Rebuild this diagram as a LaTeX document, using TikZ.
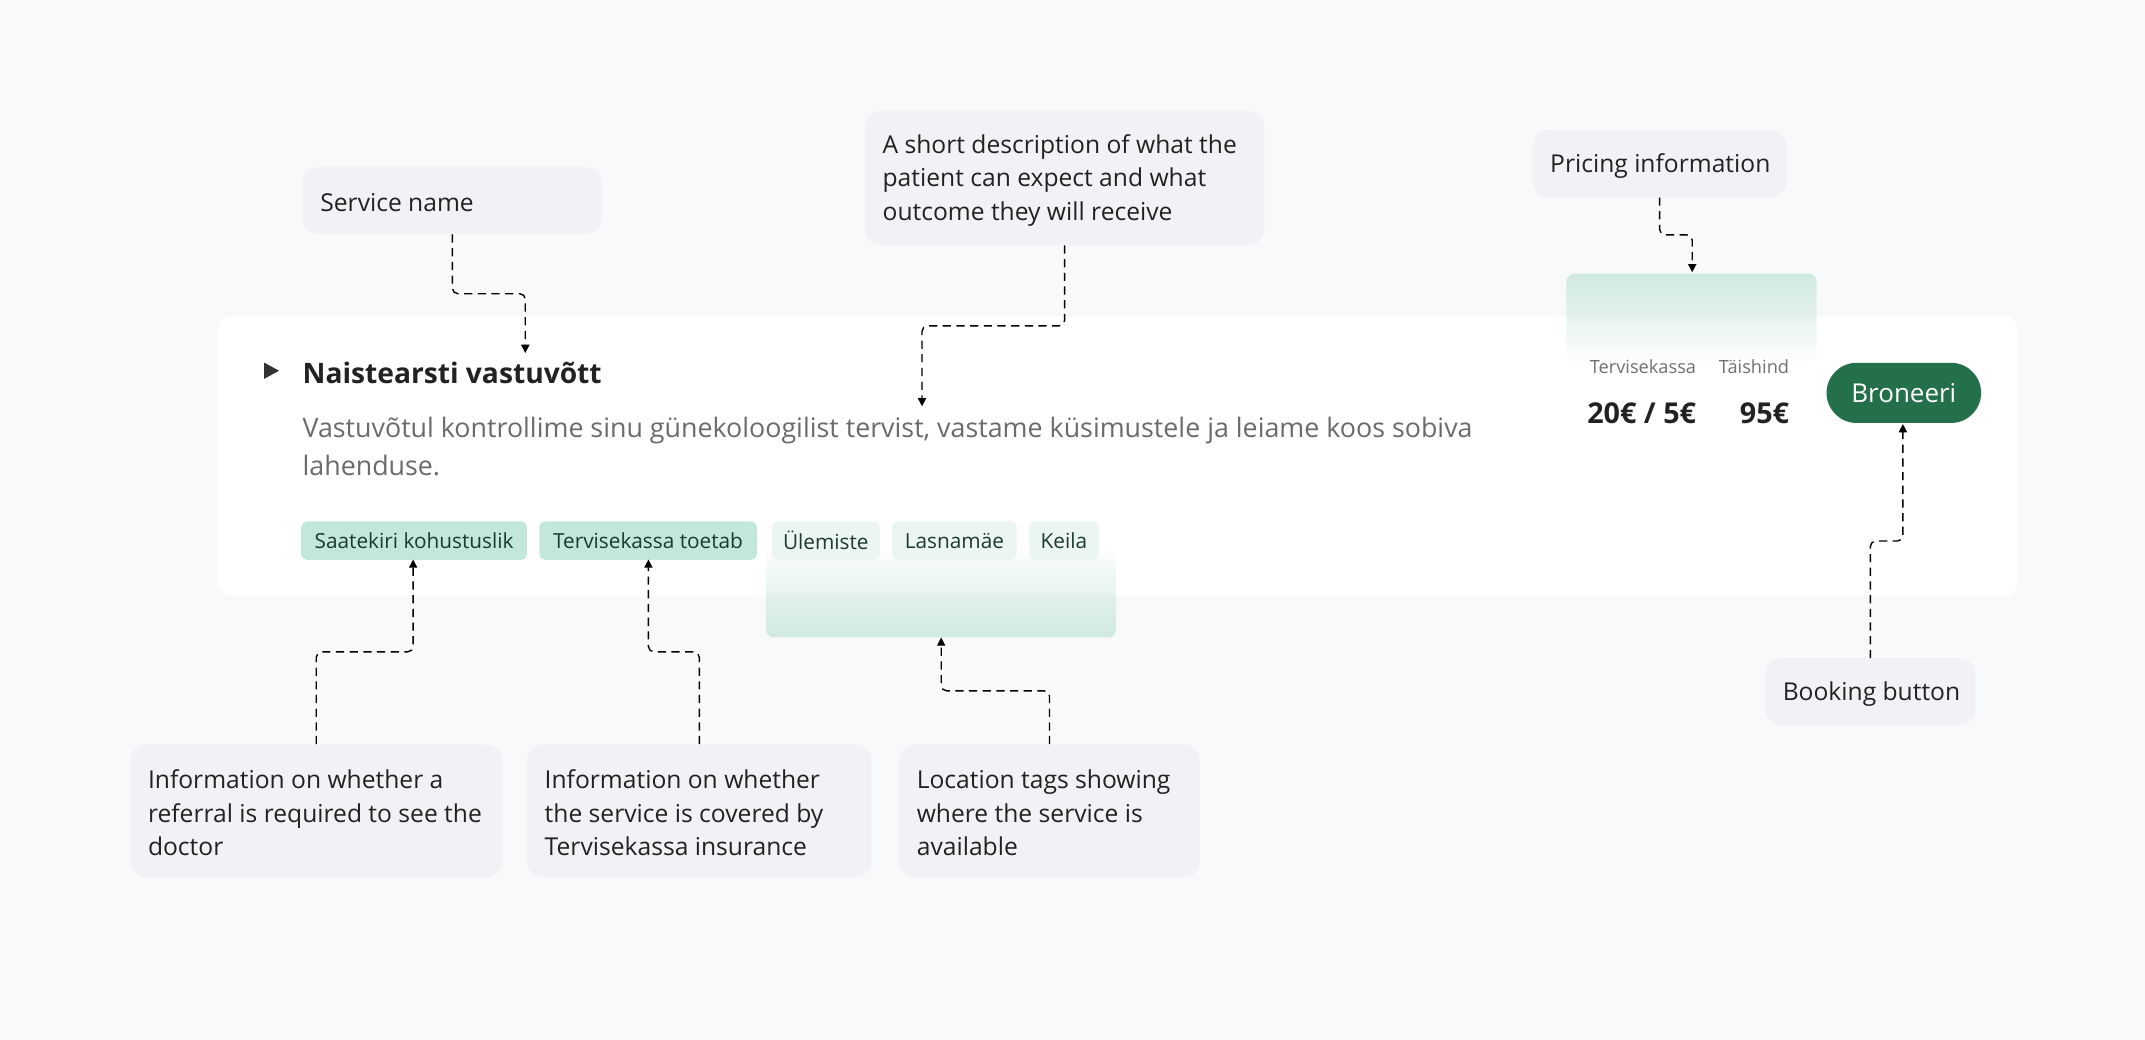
\documentclass[tikz,border=0pt]{standalone}
\usepackage{fontspec}
\setmainfont{Open Sans}
\usetikzlibrary{arrows.meta,calc,fadings}
\definecolor{bgc}{HTML}{F8F9FB}
\definecolor{annbg}{HTML}{F2F2F6}
\definecolor{txt}{HTML}{222222}
\definecolor{desc}{HTML}{6B6B6B}
\definecolor{small}{HTML}{707070}
\definecolor{mint}{HTML}{C2E8DA}
\definecolor{mintlight}{HTML}{EBF6F1}
\definecolor{tagtxt}{HTML}{1C3A2F}
\definecolor{glow}{HTML}{D0E9DF}
\definecolor{btn}{HTML}{24704A}
\definecolor{icon}{HTML}{333333}
\begin{document}
\begin{tikzpicture}[x=1pt,y=-1pt,
  annbox/.style={fill=annbg, rounded corners=12pt, draw=none, anchor=north west, inner sep=0pt},
  anntext/.style={anchor=west, align=left, inner sep=0pt, yshift=-1.7pt, text=txt, font=\fontsize{18}{24.5}\selectfont},
  tagbox/.style={rounded corners=4pt, anchor=north west, inner sep=0pt, minimum height=28pt, text=tagtxt, font=\fontsize{15.2}{18}\selectfont},
  tagA/.style={tagbox, fill=mint},
  tagB/.style={tagbox, fill=mintlight},
  conn/.style={draw=black, line width=1pt, dash pattern=on 6pt off 4pt, rounded corners=4pt, -{Triangle[width=6pt,length=6pt]}}
]
\useasboundingbox (0,0) rectangle (1568,760);
\fill[bgc] (0,0) rectangle (1568,760);
% card
\node[fill=white, rounded corners=10pt, anchor=north west, inner sep=0pt, minimum width=1316pt, minimum height=204pt] (card) at (159,231) {};
% glows
\fill[glow, rounded corners=6pt, path fading=south] (1145,200) rectangle (1328,265);
\fill[glow, rounded corners=6pt, path fading=north] (560,400) rectangle (816,466);
\coordinate (priceglow) at (1237,199);
\coordinate (locglow) at (688,466);
% triangle icon
\fill[icon] (193,265) -- (204,271) -- (193,277) -- cycle;
% title and description
\node[anchor=base west, inner sep=0pt, text=txt, font=\fontsize{20.6}{24}\selectfont\bfseries] (title) at (221,280.5) {Naistearsti vastuvõtt};
\node[anchor=north west, inner sep=0pt, align=left, text=desc, font=\fontsize{19.6}{28}\selectfont] (descr) at (221,304.5) {Vastuvõtul kontrollime sinu günekoloogilist tervist, vastame küsimustele ja leiame koos sobiva\\lahenduse.};
\coordinate (titletip) at (384,258);
\coordinate (desctip) at (674,297);
% tags
\node[tagA, minimum width=165pt] (t1) at (220,381) {Saatekiri kohustuslik};
\node[tagA, minimum width=159pt] (t2) at (394,381) {Tervisekassa toetab};
\node[tagB, minimum width=79pt] (t3) at (564,381) {Ülemiste};
\node[tagB, minimum width=91pt] (t4) at (652,381) {Lasnamäe};
\node[tagB, minimum width=51pt] (t5) at (752,381) {Keila};
\coordinate (t1tip) at (302,409);
\coordinate (t2tip) at (474,409);
% pricing
\node[anchor=base east, inner sep=0pt, text=small, font=\fontsize{13.3}{16}\selectfont] (plab1) at (1240,273) {Tervisekassa};
\node[anchor=base east, inner sep=0pt, text=small, font=\fontsize{13.3}{16}\selectfont] (plab2) at (1308,273) {Täishind};
\node[anchor=base east, inner sep=0pt, text=txt, font=\fontsize{21}{24}\selectfont\bfseries] (pval1) at (1240,309.5) {20€ / 5€};
\node[anchor=base east, inner sep=0pt, text=txt, font=\fontsize{21}{24}\selectfont\bfseries] (pval2) at (1308,309.5) {95€};
% button
\node[fill=btn, rounded corners=22pt, anchor=north west, inner sep=0pt, minimum width=113pt, minimum height=44pt, text=white, font=\fontsize{19}{22}\selectfont] (btn) at (1335,265) {Broneeri};
\coordinate (btntip) at (1391,310);
% annotation boxes
\node[annbox, minimum width=219pt, minimum height=49pt] (a1) at (221,122) {};
\node[anntext] at ([xshift=13pt]a1.west) {Service name};
\node[annbox, minimum width=292pt, minimum height=98pt] (a2) at (632,81) {};
\node[anntext] at ([xshift=13pt]a2.west) {A short description of what the\\patient can expect and what\\outcome they will receive};
\node[annbox, minimum width=186pt, minimum height=49pt] (a3) at (1120,95) {};
\node[anntext] at ([xshift=13pt]a3.west) {Pricing information};
\node[annbox, minimum width=154pt, minimum height=49pt] (a4) at (1290,481) {};
\node[anntext] at ([xshift=13pt]a4.west) {Booking button};
\node[annbox, minimum width=272pt, minimum height=97pt] (a5) at (95,544) {};
\node[anntext] at ([xshift=13pt]a5.west) {Information on whether a\\referral is required to see the\\doctor};
\node[annbox, minimum width=252pt, minimum height=97pt] (a6) at (385,544) {};
\node[anntext] at ([xshift=13pt]a6.west) {Information on whether\\the service is covered by\\Tervisekassa insurance};
\node[annbox, minimum width=220pt, minimum height=97pt] (a7) at (657,544) {};
\node[anntext] at ([xshift=13pt]a7.west) {Location tags showing\\where the service is\\available};
% connectors
\draw[conn] (a1.south) |- ($(a1.south)!0.5!(titletip)$) -| (titletip);
\draw[conn] (a2.south) |- ($(a2.south)!0.5!(desctip)$) -| (desctip);
\draw[conn] (a3.south) |- ($(a3.south)!0.5!(priceglow)$) -| (priceglow);
\draw[conn] (a4.north) |- ($(a4.north)!0.5!(btntip)$) -| (btntip);
\draw[conn] (a5.north) |- ($(a5.north)!0.5!(t1tip)$) -| (t1tip);
\draw[conn] (a6.north) |- ($(a6.north)!0.5!(t2tip)$) -| (t2tip);
\draw[conn] (a7.north) |- ($(a7.north)!0.5!(locglow)$) -| (locglow);
\end{tikzpicture}
\end{document}
